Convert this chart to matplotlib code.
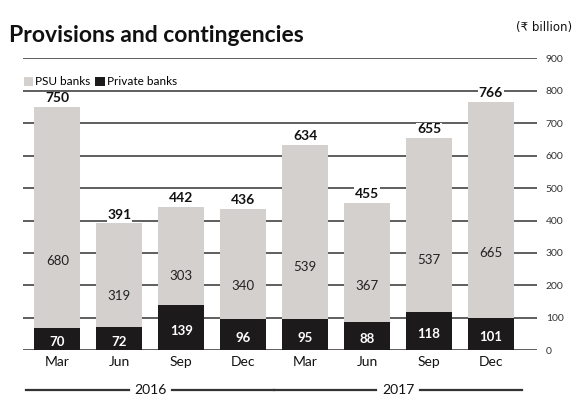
import matplotlib.pyplot as plt
import matplotlib.transforms as mtransforms
from matplotlib.patches import Patch
import numpy as np

plt.rcParams['font.family'] = ['Lato', 'DejaVu Sans']

quarters = ["Mar", "Jun", "Sep", "Dec", "Mar", "Jun", "Sep", "Dec"]
private = [70, 72, 139, 96, 95, 88, 118, 101]
psu = [680, 319, 303, 340, 539, 367, 537, 665]
totals = [750, 391, 442, 436, 634, 455, 655, 766]
years = ["2016", "2017"]

psu_col = "#d4d0cd"
priv_col = "#1c1a1a"

fig = plt.figure(figsize=(5.81, 4.17), dpi=100)
ax = fig.add_axes([0.04, 0.16, 0.885, 0.70])

x = np.arange(len(quarters))
w = 0.74
ax.bar(x, private, width=w, color=priv_col, zorder=3)
ax.bar(x, psu, width=w, bottom=private, color=psu_col, zorder=3)

for i in range(len(x)):
    ax.text(x[i], private[i] / 2 - 10, str(private[i]), ha="center", va="center",
            color="white", fontsize=9.5, fontweight="bold", zorder=4)
    ax.text(x[i], private[i] + psu[i] * 0.3, str(psu[i]), ha="center", va="center",
            color="#222222", fontsize=9.5, zorder=4)
    ax.text(x[i], totals[i] + 8, str(totals[i]), ha="center", va="bottom",
            color="#111111", fontsize=10, fontweight="bold", zorder=4,
            bbox=dict(facecolor="white", edgecolor="none", pad=0.5))

ax.set_xlim(-0.55, 7.75)
ax.set_ylim(0, 900)
ax.set_yticks(np.arange(0, 901, 100))
ax.yaxis.tick_right()
ax.tick_params(axis="y", length=0, labelsize=7.5, labelcolor="#333333", pad=6)
ax.grid(axis="y", color="#333333", linewidth=1.1, zorder=0)
ax.set_xticks(x)
ax.set_xticklabels(quarters, fontsize=10, color="#111111")
ax.tick_params(axis="x", length=0, pad=4)
for s in ax.spines.values():
    s.set_visible(False)

# year labels with rules underneath
trans = mtransforms.blended_transform_factory(ax.transData, ax.transAxes)
for k, yr in enumerate(years):
    c = 1.5 + 4 * k
    ax.text(c, -0.135, yr, transform=trans, ha="center", va="center",
            fontsize=10, color="#111111")
    ax.plot([c - 2.0, c - 0.35], [-0.135, -0.135], transform=trans,
            color="#333333", linewidth=1.6, clip_on=False)
    ax.plot([c + 0.35, c + 2.0], [-0.135, -0.135], transform=trans,
            color="#333333", linewidth=1.6, clip_on=False)

handles = [Patch(facecolor=psu_col, edgecolor="none", label="PSU banks"),
           Patch(facecolor=priv_col, edgecolor="none", label="Private banks")]
ax.legend(handles=handles, loc="upper left", bbox_to_anchor=(-0.02, 0.975), ncol=2,
          frameon=False, fontsize=8.5, handlelength=0.8, handleheight=0.8,
          handletextpad=0.2, columnspacing=0.4)

fig.text(0.015, 0.915, "Provisions and contingencies", fontsize=16.5,
         fontweight="bold", color="#111111", va="center")
fig.text(0.985, 0.935, "(\u20b9 billion)", fontsize=8.5, color="#111111",
         ha="right", va="center", family=["DejaVu Sans"])

fig.savefig("out.png", dpi=100)
